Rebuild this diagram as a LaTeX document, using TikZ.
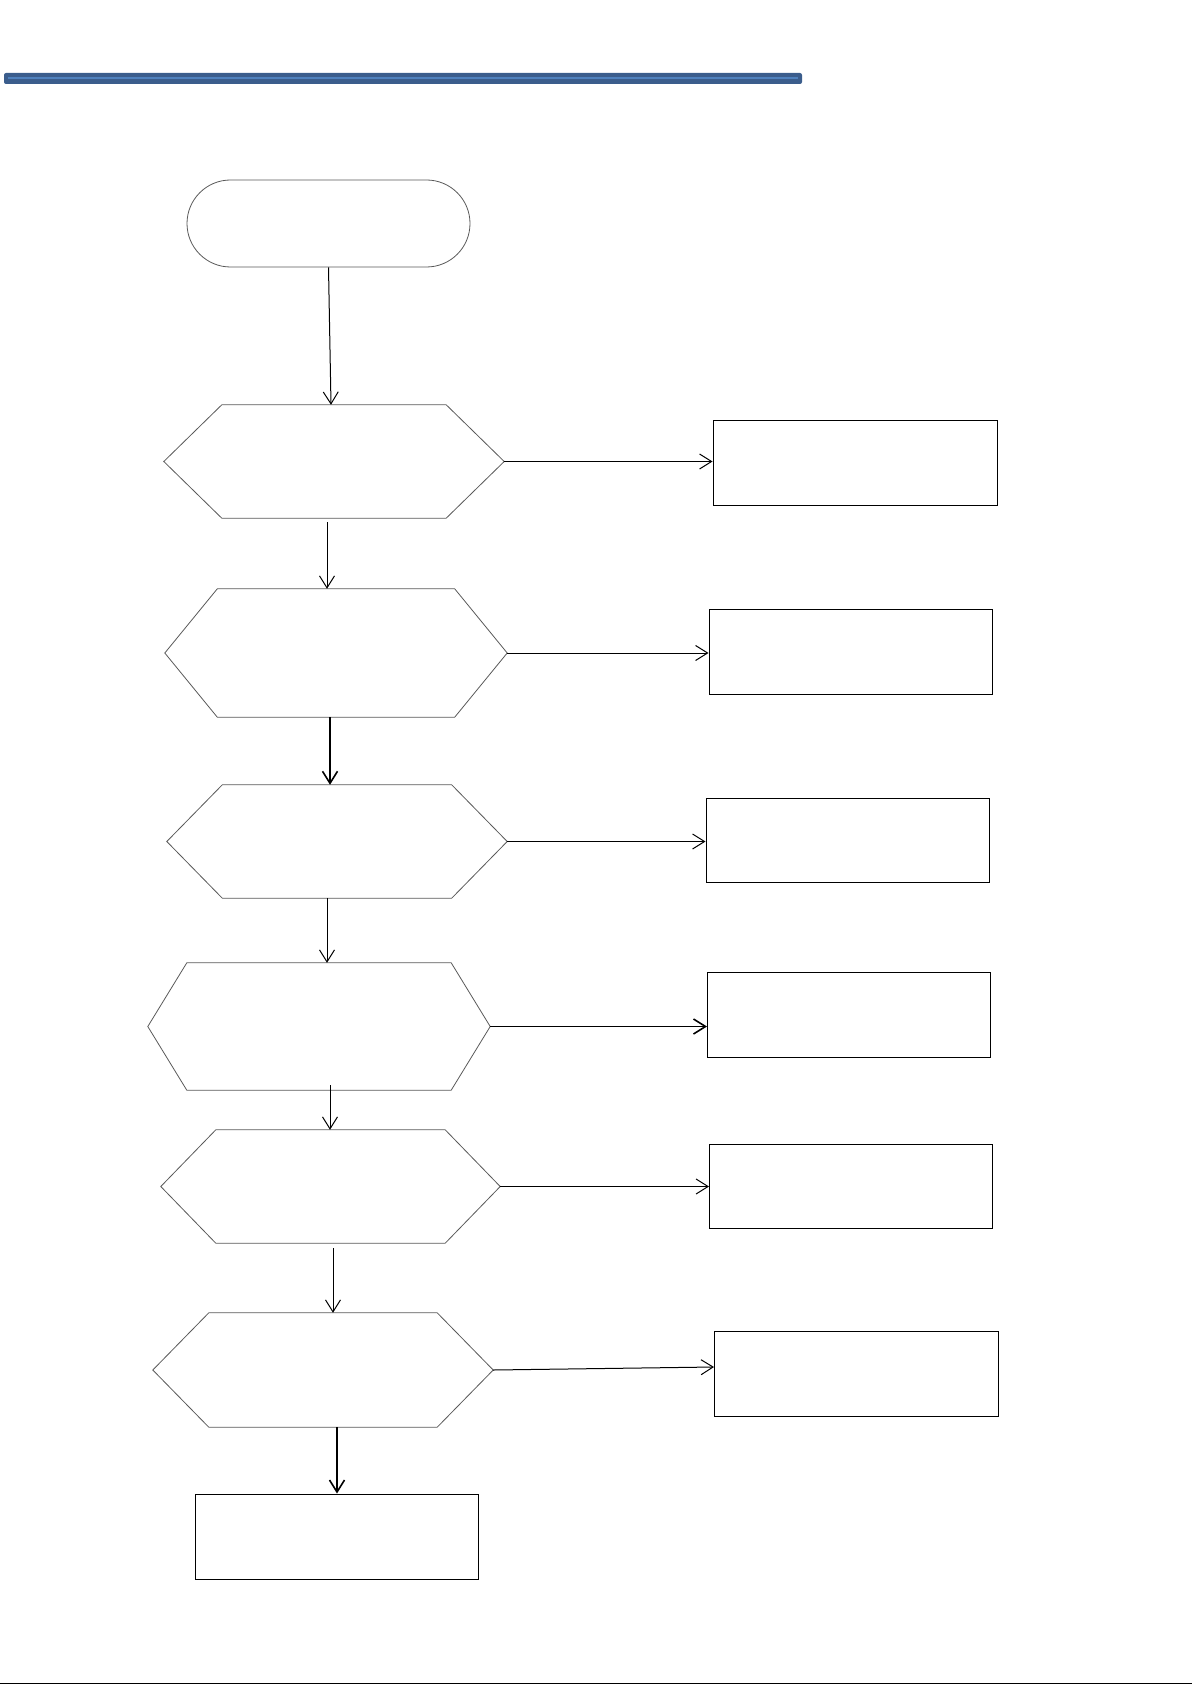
\documentclass[tikz,border=0pt]{standalone}
\usepackage{tikz}
\usetikzlibrary{arrows.meta, positioning}
\definecolor{bardark}{RGB}{59,93,140}
\definecolor{barlight}{RGB}{79,129,189}

\begin{document}
\begin{tikzpicture}[x=1pt, y=-1pt,
    terminal/.style={rectangle, rounded corners=43.5pt, draw=black!65, line width=0.8pt, inner sep=0pt},
    decision/.style={rectangle, inner sep=0pt},
    hexline/.style={draw=black!65, line width=0.8pt, line join=miter},
    outbox/.style={rectangle, draw=black, line width=1pt, inner sep=0pt,
        minimum width=283pt, minimum height=84.5pt},
    flow/.style={draw=black, line width=1pt, -{Straight Barb[length=12pt,width=15pt]}},
    thickflow/.style={flow, line width=1.6pt}]
    \useasboundingbox (0,0) rectangle (1192,1685);

    % header bar and footer rule
    \fill[bardark, rounded corners=2pt] (4,73) rectangle (802,84);
    \fill[barlight] (8,77) rectangle (798,79.5);
    \draw[line width=1.2pt] (0,1683.5) -- (1192,1683.5);

    % start
    \node[terminal, minimum width=283pt, minimum height=87pt] (start) at (328.5,223.5) {};

    % decisions
    \node[decision, minimum width=340pt, minimum height=113pt] (d1) at (334,461.5) {};
    \node[decision, minimum width=342pt, minimum height=128pt] (d2) at (336,653) {};
    \node[decision, minimum width=340pt, minimum height=113pt] (d3) at (337,841.5) {};
    \node[decision, minimum width=342pt, minimum height=127pt] (d4) at (319,1026.5) {};
    \node[decision, minimum width=339pt, minimum height=113pt] (d5) at (330.5,1186.5) {};
    \node[decision, minimum width=340pt, minimum height=114pt] (d6) at (323,1370) {};
    \foreach \n/\c in {d1/58, d2/52.5, d3/55.5, d4/39, d5/55, d6/56} {
        \draw[hexline] (\n.west) -- ([xshift=\c pt]\n.north west) -- ([xshift=-\c pt]\n.north east)
            -- (\n.east) -- ([xshift=-\c pt]\n.south east) -- ([xshift=\c pt]\n.south west) -- cycle;
    }

    % outcomes
    \node[outbox, minimum width=284pt] (o1) at (855,463) {};
    \node[outbox] (o2) at (850.5,652) {};
    \node[outbox] (o3) at (847.5,840.5) {};
    \node[outbox] (o4) at (849,1015) {};
    \node[outbox] (o5) at (851,1186.7) {};
    \node[outbox, minimum width=284pt] (o6) at (856.5,1374) {};
    \node[outbox, minimum height=85pt] (stop) at (336.5,1536.5) {};

    % main flow
    \draw[flow] (start.south) -- ([xshift=-3pt]d1.north);
    \draw[flow] ([xshift=-7pt,yshift=-4pt]d1.south) -- ([xshift=-7pt]d1.south |- d2.north);
    \draw[thickflow] ([xshift=-6pt]d2.south) -- ([xshift=-6pt]d2.south |- d3.north);
    \draw[flow] ([xshift=-10pt]d3.south) -- ([xshift=-10pt]d3.south |- d4.north);
    \draw[flow] ([xshift=11pt,yshift=5pt]d4.south) -- ([xshift=11pt]d4.south |- d5.north);
    \draw[flow] ([xshift=2.5pt,yshift=-5pt]d5.south) -- ([xshift=2.5pt]d5.south |- d6.north);
    \draw[thickflow] ([xshift=14pt]d6.south) -- ([xshift=14pt]d6.south |- stop.north);

    % side exits
    \draw[flow] (d1.east) -- (d1.east -| o1.west);
    \draw[flow] (d2.east) -- (d2.east -| o2.west);
    \draw[flow] (d3.east) -- (d3.east -| o3.west);
    \draw[thickflow] (d4.east) -- (d4.east -| o4.west);
    \draw[flow] (d5.east) -- (d5.east -| o5.west);
    \draw[flow] (d6.east) -- ([yshift=3pt]d6.east -| o6.west);
\end{tikzpicture}
\end{document}
